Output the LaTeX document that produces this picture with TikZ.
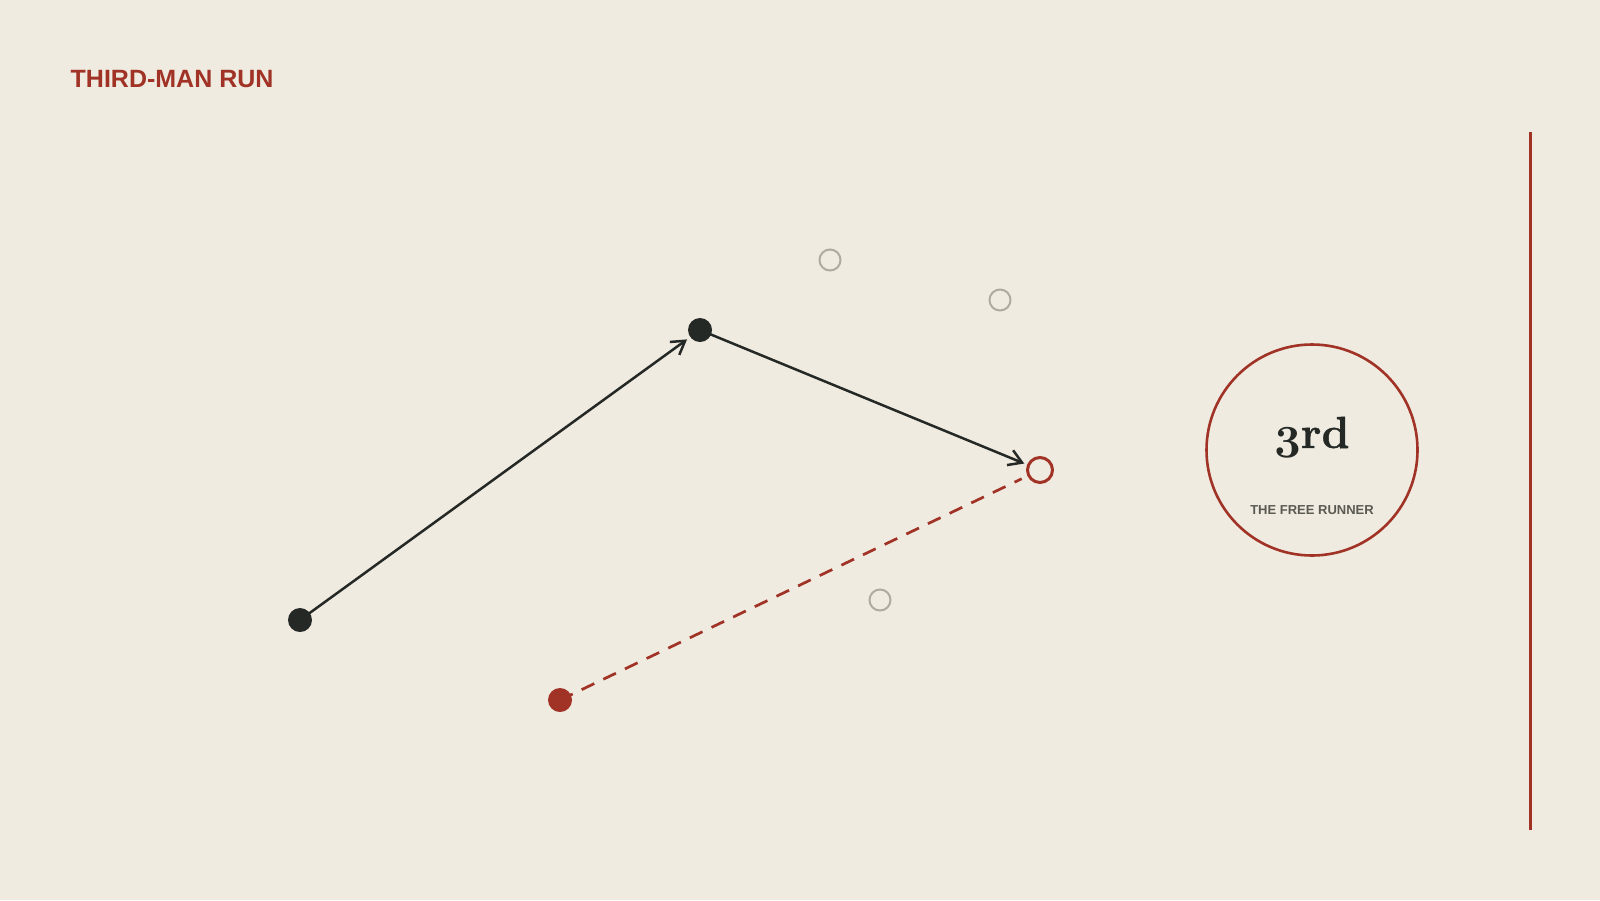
\documentclass[tikz,border=0pt]{standalone}
\usepackage{fontspec}
\newfontfamily\sansfam{Liberation Sans}
\newfontfamily\heavyfam[FakeBold=0.9]{Latin Modern Roman}
\usetikzlibrary{arrows.meta,calc}
\font\oldthree=cmmib10 at 46pt
\definecolor{bg}{HTML}{F0EBE1}
\definecolor{accent}{HTML}{A03226}
\definecolor{ink}{HTML}{252926}
\definecolor{ghost}{HTML}{B0AAA0}
\definecolor{subgray}{HTML}{5A5A52}
\tikzset{
  dot/.style={circle, inner sep=0pt, minimum size=24pt},
  ghostring/.style={circle, inner sep=0pt, minimum size=21pt, draw=ghost, line width=2pt, fill=bg},
  targetring/.style={circle, inner sep=0pt, minimum size=25pt, draw=accent, line width=3pt, fill=bg},
  pass/.style={ink, line width=2.5pt, -{Straight Barb[length=13pt,width=16pt]}},
  run/.style={accent, line width=2.7pt, dash pattern=on 14pt off 10pt},
}
\begin{document}
\begin{tikzpicture}[x=1pt,y=-1pt]
\fill[bg] (0,0) rectangle (1600,900);
\useasboundingbox (0,0) rectangle (1600,900);
% positions
\coordinate (c1) at (300,620);
\coordinate (c2) at (700,330);
\coordinate (c3) at (560,700);
\coordinate (ct) at (1040,470);
\coordinate (vtop) at (1530.5,132);
\coordinate (vbot) at (1530.5,830);
% title
\node[anchor=base west, inner sep=0pt, text=accent, font=\sansfam\bfseries\fontsize{25}{25}\selectfont] (title) at (70.5,87) {THIRD-MAN RUN};
% connectors
\draw[run] (c3) -- ($(c3)!512pt!(ct)$) coordinate (runend);
\draw[pass, shorten >=16pt] (c1) -- (c2);
\draw[pass, shorten >=17pt] (c2) -- (ct);
% players
\node[dot, fill=ink] (p1) at (c1) {};
\node[dot, fill=ink] (p2) at (c2) {};
\node[dot, fill=accent] (p3) at (c3) {};
\node[targetring] (target) at (ct) {};
\node[ghostring] (g1) at (830,260) {};
\node[ghostring] (g2) at (1000,300) {};
\node[ghostring] (g3) at (880,600) {};
% badge
\coordinate (badge) at (1312,450);
\draw[accent, line width=2.6pt] (badge) circle[radius=105.5pt];
\node[anchor=base, inner sep=0pt, text=ink, font=\heavyfam\bfseries\fontsize{45}{45}\selectfont] (third) at (1312,448) {{\oldthree 3}rd};
\node[anchor=base, inner sep=0pt, text=subgray, font=\sansfam\bfseries\fontsize{13}{13}\selectfont] (free) at (1312,514) {THE FREE RUNNER};
% side line
\draw[accent, line width=3pt] (vtop) -- (vbot);
\end{tikzpicture}
\end{document}
